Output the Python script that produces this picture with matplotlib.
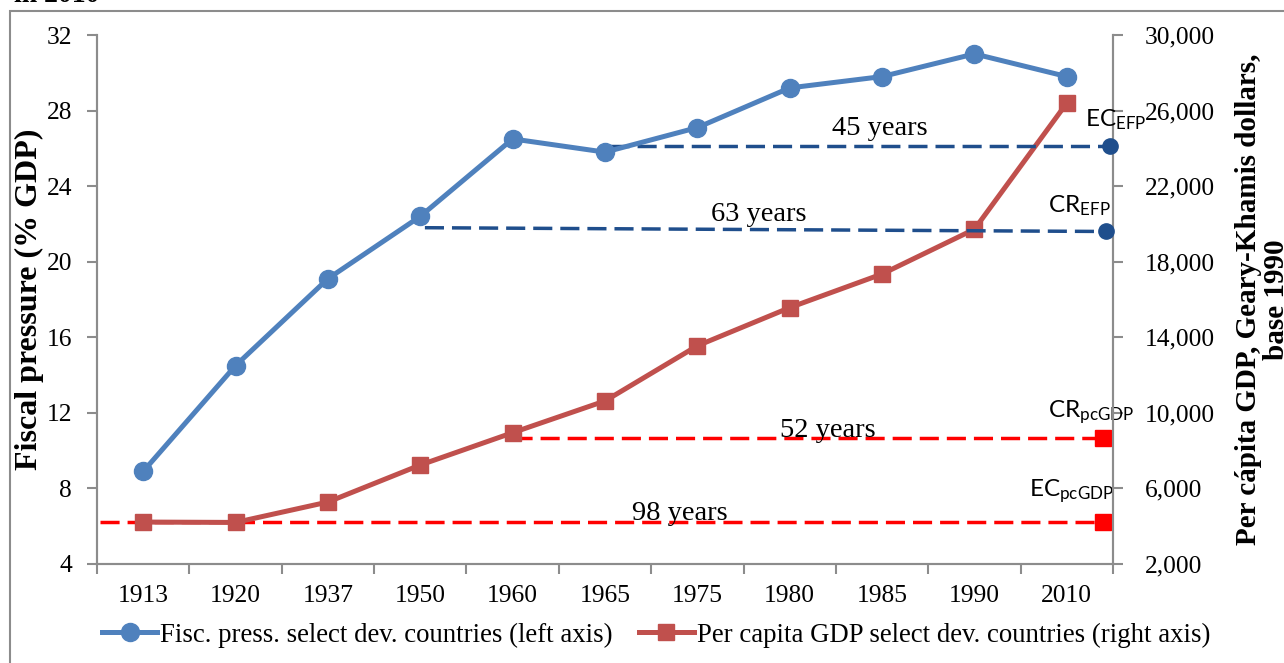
import numpy as np
import matplotlib
matplotlib.use('Agg')
import matplotlib.pyplot as plt
from matplotlib.patches import Rectangle

years = ['1913', '1920', '1937', '1950', '1960', '1965', '1975', '1980', '1985', '1990', '2010']
fiscal_pressure = [8.9, 14.5, 19.1, 22.4, 26.5, 25.8, 27.1, 29.2, 29.8, 31.0, 29.8]
gdp_per_capita = [4220, 4200, 5280, 7240, 8950, 10630, 13550, 15570, 17350, 19720, 26400]

# convergence reference lines: label, start category, level at start / end
efp_labels = ['EC$_{EFP}$', 'CR$_{EFP}$']
efp_spans = ['45 years', '63 years']
efp_start = [5, 3]
efp_level_start = [26.1, 21.8]
efp_level_end = [26.1, 21.6]

gdp_labels = ['CR$_{pcGDP}$', 'EC$_{pcGDP}$']
gdp_spans = ['52 years', '98 years']
gdp_start = [4, -0.47]
gdp_level = [8670, 4230]

serif = 'Liberation Serif'
blue, red = '#4F81BD', '#C0504D'
navy, bright_red = '#1F4E8C', '#FF0000'
gray = '#8C8C8C'

fig = plt.figure(figsize=(12.84, 6.63), dpi=100)
ax = fig.add_axes([97 / 1284, 1 - 564 / 663, (1113 - 97) / 1284, (564 - 35) / 663])
ax2 = ax.twinx()

x = np.arange(len(years))

l1, = ax.plot(x, fiscal_pressure, color=blue, lw=3.6, marker='o', ms=13, zorder=4,
              label='Fisc. press. select dev. countries (left axis)')
l2, = ax2.plot(x, gdp_per_capita, color=red, lw=3.6, marker='s', ms=12, zorder=4,
               label='Per capita GDP select dev. countries (right axis)')

# fiscal pressure reference lines (left axis)
efp_end = [10.47, 10.42]
for i in range(len(efp_labels)):
    ax.plot([efp_start[i] + 0.05, efp_end[i]], [efp_level_start[i], efp_level_end[i]],
            color=navy, lw=2.5, dashes=(5.5, 2.3), zorder=3)
    ax.plot(efp_end[i], efp_level_end[i], 'o', color=navy, ms=11, clip_on=False, zorder=5)

# per capita GDP reference lines (right axis)
for i in range(len(gdp_labels)):
    ax2.plot([gdp_start[i], 10.38], [gdp_level[i], gdp_level[i]],
             color=bright_red, lw=2.5, dashes=(5.5, 2.3), zorder=3)
    ax2.plot(10.39, gdp_level[i], 's', color=bright_red, ms=12, clip_on=False, zorder=5)

span_style = dict(ha='center', va='center', fontsize=20.5, family=serif, zorder=6)
ax.text(7.98, 27.05, efp_spans[0], **span_style)
ax.text(6.66, 22.5, efp_spans[1], **span_style)
ax2.text(7.41, 9050, gdp_spans[0], **span_style)
ax2.text(5.81, 4650, gdp_spans[1], **span_style)

lab_style = dict(ha='left', va='baseline', fontsize=17.5, family='Lato', clip_on=False, zorder=6)
ax.text(10.20, 27.15, r'$\mathregular{EC_{EFP}}$', **lab_style)
ax.text(9.80, 22.6, r'$\mathregular{CR_{EFP}}$', **lab_style)
ax2.text(9.80, 9750, r'$\mathregular{CR_{pcGDP}}$', **lab_style)
ax2.text(9.59, 5600, r'$\mathregular{EC_{pcGDP}}$', **lab_style)

ax.set_xlim(-0.5, 10.5)
ax.set_ylim(4, 32)
ax.set_yticks(np.arange(4, 33, 4))
ax2.set_ylim(2000, 30000)
ax2.set_yticks(np.arange(2000, 30001, 4000))
ax2.set_yticklabels([f'{v:,}' for v in range(2000, 30001, 4000)])

ax.set_xticks(np.arange(-0.5, 11, 1))
ax.set_xticklabels([])
ax.set_xticks(x, minor=True)
ax.set_xticklabels(years, minor=True)
ax.tick_params(axis='x', which='major', length=7, width=1.5, color=gray, direction='out')
ax.tick_params(axis='x', which='minor', length=0, pad=15, labelsize=18.4)
ax.tick_params(axis='y', length=7, width=1.5, color=gray, labelsize=18.4, pad=11)
ax2.tick_params(axis='y', length=7, width=1.5, color=gray, labelsize=18.4, pad=16)
for a in (ax, ax2):
    for lab in a.get_xticklabels(minor=True) + a.get_yticklabels():
        lab.set_family(serif)
    a.spines['top'].set_visible(False)
    for s in ('left', 'right', 'bottom'):
        a.spines[s].set_color(gray)
        a.spines[s].set_linewidth(1.5)

ax.set_ylabel('Fiscal pressure (% GDP)', fontsize=23, fontweight='bold', family=serif, labelpad=2)
ax2.set_ylabel('Per cápita GDP, Geary-Khamis dollars,\nbase 1990', fontsize=21,
               fontweight='bold', family=serif, labelpad=14, linespacing=1.05)

ax.set_zorder(ax2.get_zorder() + 1)
ax.patch.set_visible(False)

fig.legend(handles=[l1, l2], loc='center', bbox_to_anchor=(656 / 1284, 1 - 635 / 663), ncol=2,
           frameon=False, handlelength=2.05, markerscale=1.0, columnspacing=1.0,
           handletextpad=0.1, borderpad=0, prop={'family': serif, 'size': 19.3})

fig.patches.append(Rectangle((10 / 1284, -0.1), 1.2, 1.1 - 11 / 663, transform=fig.transFigure,
                             fill=False, edgecolor=gray, lw=1.5))
fig.text(14 / 1284, 1 - 2 / 663, 'in 2010', fontsize=20, fontweight='bold', family=serif,
         va='baseline', ha='left')

fig.savefig('out.png', dpi=100)
